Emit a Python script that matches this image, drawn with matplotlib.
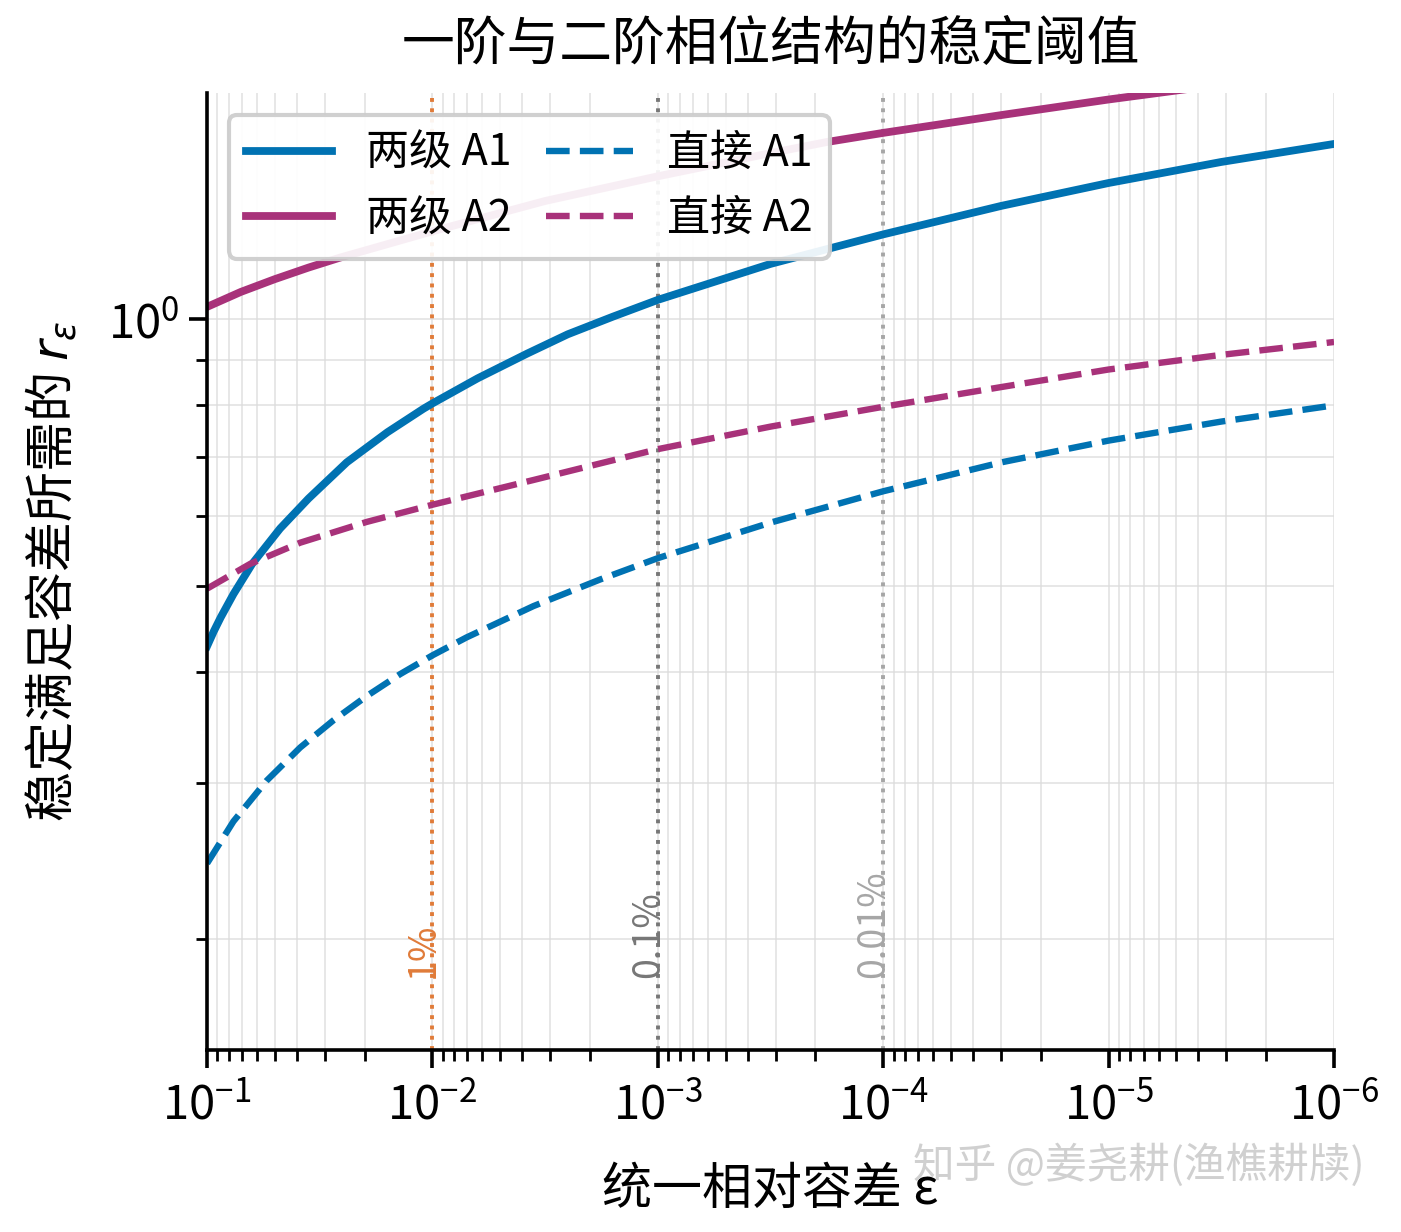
# Stability thresholds of first/second order phase structures

import numpy as np
import matplotlib
matplotlib.use("Agg")
import matplotlib.pyplot as plt
import matplotlib.transforms as mtransforms
from matplotlib.ticker import NullFormatter, LogLocator

plt.rcParams['font.family'] = ['Noto Sans CJK SC', 'DejaVu Sans']
plt.rcParams['axes.unicode_minus'] = True

# exponents of epsilon (x = 10**exp)
exp_two_a1 = [-1.0, -1.03, -1.06, -1.117, -1.2, -1.324, -1.45, -1.62, -1.8, -1.96, -2.0,
              -2.2, -2.42, -2.6, -2.80, -3.0, -3.5, -4.0, -4.525, -5.0, -5.5, -6.0]
two_a1 = [0.428, 0.445, 0.461, 0.490, 0.530, 0.581, 0.628, 0.69, 0.746, 0.793, 0.804,
          0.858, 0.915, 0.962, 1.007, 1.052, 1.155, 1.247, 1.343, 1.425, 1.505, 1.577]

exp_two_a2 = [-1.0, -1.15, -1.3, -1.45, -1.59, -2.0, -2.5, -3.0, -3.5, -3.75, -4.0,
              -4.525, -5.0, -5.5]
two_a2 = [1.033, 1.074, 1.11, 1.144, 1.174, 1.257, 1.36, 1.45, 1.54, 1.585, 1.623,
          1.70, 1.77, 1.84]

exp_dir_a1 = [-1.0, -1.117, -1.265, -1.413, -1.56, -1.708, -1.856, -2.0, -2.152, -2.448,
              -2.744, -3.0, -3.5, -4.0, -4.525, -5.0, -5.5, -6.0]
dir_a1 = [0.2435, 0.2716, 0.302, 0.329, 0.353, 0.376, 0.398, 0.418, 0.438, 0.475,
          0.509, 0.538, 0.59, 0.640, 0.690, 0.730, 0.767, 0.80]

exp_dir_a2 = [-1.0, -1.191, -1.413, -1.708, -2.0, -2.448, -3.0, -3.5, -4.0, -4.525,
              -5.0, -5.5, -6.0]
dir_a2 = [0.497, 0.530, 0.560, 0.591, 0.618, 0.659, 0.714, 0.757, 0.797, 0.839,
          0.878, 0.912, 0.943]

ref_eps = [1e-2, 1e-3, 1e-4]
ref_labels = ['1%', '0.1%', '0.01%']
ref_colors = ['#e07b39', '#777777', '#a6a6a6']

blue = '#0072b2'
purple = '#a8327a'

fig = plt.figure(figsize=(7.005, 6.16), dpi=200)
ax = fig.add_axes([0.1478, 0.1477, 0.8044, 0.7768])

ax.plot(10.0 ** np.array(exp_two_a1), two_a1, color=blue, lw=2.8, label='两级 A1')
ax.plot(10.0 ** np.array(exp_two_a2), two_a2, color=purple, lw=2.8, label='两级 A2')
ax.plot(10.0 ** np.array(exp_dir_a1), dir_a1, color=blue, lw=2.3, ls='--', label='直接 A1')
ax.plot(10.0 ** np.array(exp_dir_a2), dir_a2, color=purple, lw=2.3, ls='--', label='直接 A2')

shift = mtransforms.offset_copy(ax.transData, fig=fig, x=3.6, y=0, units='points')
for e, lab, c in zip(ref_eps, ref_labels, ref_colors):
    ax.axvline(e, color=c, ls=':', lw=1.4, zorder=1)
    ax.text(e, 0.181, lab, rotation=90, color=c, fontsize=13.5,
            ha='right', va='bottom', transform=shift)

ax.set_xscale('log')
ax.set_yscale('log')
ax.set_xlim(1e-1, 1e-6)
ax.set_ylim(0.15, 1.8)

ax.xaxis.set_minor_locator(LogLocator(base=10, subs=np.arange(2, 10)))
ax.yaxis.set_minor_locator(LogLocator(base=10, subs=np.arange(2, 10)))
ax.xaxis.set_minor_formatter(NullFormatter())
ax.yaxis.set_minor_formatter(NullFormatter())

ax.grid(True, which='both', color='#dcdcdc', lw=0.7, alpha=0.7)
ax.set_axisbelow(True)

for s in ['top', 'right']:
    ax.spines[s].set_visible(False)
for s in ['left', 'bottom']:
    ax.spines[s].set_linewidth(1.3)
ax.tick_params(which='major', length=6.5, width=1.3, labelsize=17)
ax.tick_params(which='minor', length=4, width=1.0)
ax.tick_params(axis='x', which='major', pad=5)

ax.set_xlabel('统一相对容差 ε', fontsize=18, labelpad=12)
ax.set_ylabel('稳定满足容差所需的 $r_\\varepsilon$', fontsize=18, labelpad=10)
ax.set_title('一阶与二阶相位结构的稳定阈值', fontsize=19, pad=12)

leg = ax.legend(ncol=2, loc='upper left', fontsize=15.5, framealpha=0.92,
                edgecolor='#cccccc', handlelength=2.0, columnspacing=0.8,
                borderpad=0.4, bbox_to_anchor=(0.0, 1.0))
leg.get_frame().set_linewidth(1.5)

fig.text(0.974, 0.054, '知乎 @姜尧耕(渔樵耕牍)', fontsize=15, color='#d0d0d0',
         ha='right', va='center')

fig.savefig('out.png', dpi=200)
